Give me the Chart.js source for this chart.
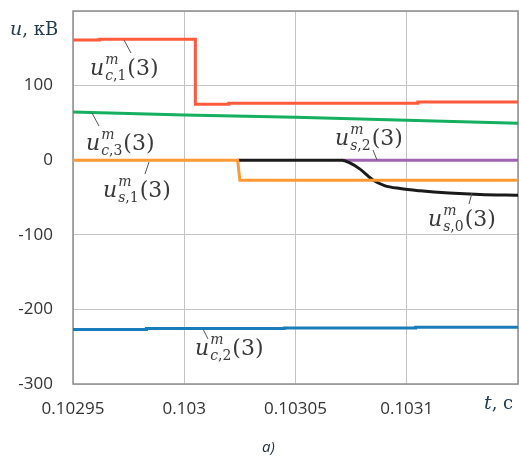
<!DOCTYPE html>
<html>
<head>
<meta charset="utf-8">
<script src="https://cdn.jsdelivr.net/npm/chart.js@4"></script>
<style>
  body { margin: 0; background: #fff; }
  canvas { display: block; }
</style>
</head>
<body>
<canvas id="chart" width="519" height="462"></canvas>
<script>
// Daten
const tC1 = [0.10295, 0.102962, 0.102962, 0.103005, 0.103005, 0.103020, 0.103020, 0.103105, 0.103105, 0.10315];
const uC1 = [161, 161, 162, 162, 75, 75, 76.5, 76.5, 78, 78];

const tC3 = [0.10295, 0.103, 0.10305, 0.1031, 0.10315];
const uC3 = [64.5, 60.5, 57.5, 53.5, 49.5];

const tC2 = [0.10295, 0.102983, 0.102983, 0.103045, 0.103045, 0.103104, 0.103104, 0.10315];
const uC2 = [-227, -227, -225.5, -225.5, -224.8, -224.8, -224, -224];

const tS1 = [0.10295, 0.103024, 0.103025, 0.10315];
const uS1 = [0, 0, -27, -27];

const tS0 = [0.103024, 0.103071, 0.103074, 0.103079, 0.103085, 0.10309, 0.103097, 0.103106, 0.103119, 0.103133, 0.10315];
const uS0 = [0, 0, -3, -12, -27, -34, -38, -41, -44, -46, -47];

const tS2 = [0.103071, 0.10315];
const uS2 = [0, 0];

const xTicks = [0.10295, 0.103, 0.10305, 0.1031, 0.10315];
const yTicks = [-300, -200, -100, 0, 100, 200];

function pts(t, u) {
  return t.map((x, i) => ({ x: x, y: u[i] }));
}

function series(t, u, color) {
  return {
    data: pts(t, u),
    borderColor: color,
    borderWidth: 3,
    pointRadius: 0,
    showLine: true,
    tension: 0,
    fill: false
  };
}

// Beschriftungen u^m_{x,y}(3)
function mathLabel(ctx, x, y, letter, idx) {
  ctx.fillStyle = '#3a3a3a';
  ctx.textBaseline = 'alphabetic';
  ctx.textAlign = 'left';
  ctx.font = 'italic 22px "DejaVu Serif"';
  ctx.fillText('u', x, y);
  let w = ctx.measureText('u').width + 1;

  ctx.font = 'italic 14px "DejaVu Serif"';
  ctx.fillText('m', x + w, y - 11);
  const wm = ctx.measureText('m').width;

  ctx.fillText(letter, x + w, y + 5);
  let ws = ctx.measureText(letter).width;
  ctx.font = '14px "DejaVu Serif"';
  ctx.fillText(',' + idx, x + w + ws, y + 5);
  ws += ctx.measureText(',' + idx).width;

  ctx.font = '22px "DejaVu Serif"';
  ctx.fillText('(3)', x + w + Math.max(wm, ws) + 1, y);
}

function leader(ctx, x1, y1, x2, y2) {
  ctx.strokeStyle = '#555';
  ctx.lineWidth = 1;
  ctx.beginPath();
  ctx.moveTo(x1, y1);
  ctx.lineTo(x2, y2);
  ctx.stroke();
}

function noPad(scale) {
  scale.paddingLeft = 0;
  scale.paddingRight = 0;
  scale.paddingTop = 0;
  scale.paddingBottom = 0;
}

const boxPlugin = {
  id: 'box',
  beforeDatasetsDraw(chart) {
    const { ctx, chartArea: a } = chart;
    ctx.save();
    ctx.strokeStyle = '#8f8f8f';
    ctx.lineWidth = 1.5;
    ctx.strokeRect(a.left, a.top, a.right - a.left, a.bottom - a.top);
    ctx.restore();
  }
};

const textPlugin = {
  id: 'texte',
  afterDraw(chart) {
    const ctx = chart.ctx;
    ctx.save();

    // Achsentitel
    ctx.fillStyle = '#1f3b50';
    ctx.textBaseline = 'alphabetic';
    ctx.font = 'italic 19px "DejaVu Serif"';
    ctx.fillText('u', 10, 35);
    let w = ctx.measureText('u').width;
    ctx.font = '18px "DejaVu Serif"';
    ctx.fillText(', кВ', 10 + w, 35);

    ctx.font = 'italic 19px "DejaVu Serif"';
    ctx.fillText('t', 484, 409);
    w = ctx.measureText('t').width;
    ctx.font = '18px "DejaVu Serif"';
    ctx.fillText(', c', 484 + w, 409);

    ctx.font = 'italic 15px "Open Sans"';
    ctx.fillStyle = '#1f2d3d';
    ctx.fillText('а)', 262, 452);

    leader(ctx, 124, 40, 131, 53);
    mathLabel(ctx, 90, 75, 'c', 1);

    leader(ctx, 92, 113, 99, 126);
    mathLabel(ctx, 86, 150, 'c', 3);

    leader(ctx, 149, 162, 145, 174);
    mathLabel(ctx, 103, 197, 's', 1);

    leader(ctx, 377, 160, 373, 150);
    mathLabel(ctx, 335, 145, 's', 2);

    leader(ctx, 472, 193, 469, 204);
    mathLabel(ctx, 428, 226, 's', 0);

    leader(ctx, 203, 329, 208, 339);
    mathLabel(ctx, 195, 355, 'c', 2);

    ctx.restore();
  }
};

new Chart(document.getElementById('chart'), {
  type: 'scatter',
  data: {
    datasets: [
      series(tC2, uC2, '#1a7dbb'),
      series(tC3, uC3, '#14b060'),
      series(tC1, uC1, '#ff5a3c'),
      series(tS1, uS1, '#ff9933'),
      Object.assign(series(tS0, uS0, '#1a1a1a'), { cubicInterpolationMode: 'monotone' }),
      series(tS2, uS2, '#a064b4')
    ]
  },
  options: {
    responsive: false,
    animation: false,
    devicePixelRatio: 1,
    layout: { padding: { top: 11, right: 1, left: 0, bottom: 0 } },
    plugins: {
      legend: { display: false },
      tooltip: { enabled: false }
    },
    scales: {
      x: {
        type: 'linear',
        min: xTicks[0],
        max: xTicks[xTicks.length - 1],
        afterBuildTicks(scale) {
          scale.ticks = xTicks.map(v => ({ value: v }));
        },
        afterFit(scale) { scale.height = 78; noPad(scale); },
        grid: { color: '#c4c4c4', lineWidth: 1, drawTicks: false },
        border: { display: false },
        ticks: {
          padding: 15,
          color: '#333',
          font: { family: 'Open Sans', size: 17 },
          maxRotation: 0,
          callback: function(value, index) {
            if (index === xTicks.length - 1) return '';
            return String(Number(value.toFixed(5)));
          }
        }
      },
      y: {
        min: yTicks[0],
        max: yTicks[yTicks.length - 1],
        afterBuildTicks(scale) {
          scale.ticks = yTicks.map(v => ({ value: v }));
        },
        afterFit(scale) { scale.width = 73; noPad(scale); },
        grid: { color: '#c4c4c4', lineWidth: 1, drawTicks: false },
        border: { display: false },
        ticks: {
          padding: 20,
          color: '#333',
          font: { family: 'Open Sans', size: 17 },
          callback: function(value) {
            return value === 200 ? '' : String(value);
          }
        }
      }
    }
  },
  plugins: [boxPlugin, textPlugin]
});
</script>
</body>
</html>
